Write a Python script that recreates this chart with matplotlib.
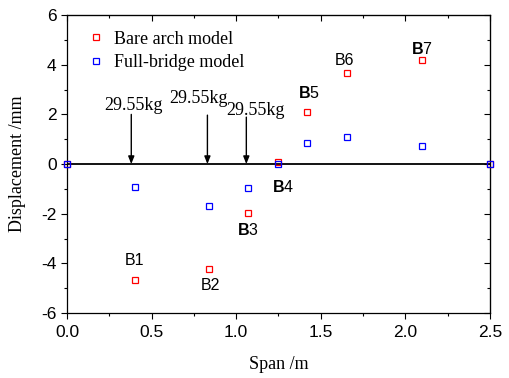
import matplotlib
matplotlib.use("Agg")
import matplotlib.pyplot as plt
from matplotlib.ticker import MultipleLocator

plt.rcParams['mathtext.fontset'] = 'custom'
plt.rcParams['mathtext.rm'] = 'Liberation Sans'
plt.rcParams['mathtext.bf'] = 'Liberation Sans:bold'

# Measured displacement along the span
span = [0.0, 0.40, 0.84, 1.07, 1.25, 1.42, 1.655, 2.10, 2.5]
bare_arch = [0.0, -4.67, -4.23, -1.97, 0.08, 2.09, 3.66, 4.19, 0.0]
full_bridge = [0.0, -0.93, -1.69, -0.97, 0.0, 0.85, 1.09, 0.72, 0.0]

# Gauge point labels (B = bold where marked)
point_labels = ['B1', 'B2', r'$\mathbf{B}\mathrm{3}$', r'$\mathbf{B}\mathrm{4}$',
                r'$\mathbf{B}\mathrm{5}$', 'B6', r'$\mathbf{B}\mathrm{7}$']
label_x = [0.40, 0.845, 1.07, 1.277, 1.43, 1.643, 2.098]
label_y = [-3.87, -4.91, -2.66, -0.93, 2.86, 4.19, 4.63]

# Load application points
load_x = [0.38, 0.83, 1.06]
load_top = [2.0, 1.97, 1.89]
load_text = ['29.55kg', '29.55kg', '29.55kg']
load_text_x = [0.393, 0.777, 1.117]
load_text_y = [2.17, 2.46, 1.97]

fig = plt.figure(figsize=(5.09, 3.78), dpi=100)
ax = fig.add_axes([0.1316, 0.172, 0.831, 0.788])

ax.axhline(0, color='black', lw=1.3, zorder=1)

ax.plot(span, bare_arch, ls='none', marker='s', ms=5, mfc='none', mec='#ff0000',
        mew=0.9, label='Bare arch model', clip_on=False, zorder=3)
ax.plot(span, full_bridge, ls='none', marker='s', ms=5, mfc='none', mec='#0000ff',
        mew=0.9, label='Full-bridge model', clip_on=False, zorder=3)

for t, x, y in zip(point_labels, label_x, label_y):
    ax.text(x, y, t, ha='center', va='center', fontsize=11.5,
            family='Liberation Sans')

for x, top, t, tx, ty in zip(load_x, load_top, load_text, load_text_x, load_text_y):
    ax.annotate('', xy=(x, 0), xytext=(x, top),
                arrowprops=dict(arrowstyle='-|>,head_length=0.45,head_width=0.18',
                                color='black', lw=1.0, shrinkA=0, shrinkB=0))
    ax.text(tx, ty, t, ha='center', va='baseline', fontsize=13,
            family='Liberation Serif')

ax.set_xlim(0, 2.5)
ax.set_ylim(-6, 6)
ax.xaxis.set_major_locator(MultipleLocator(0.5))
ax.xaxis.set_minor_locator(MultipleLocator(0.25))
ax.yaxis.set_major_locator(MultipleLocator(2))
ax.yaxis.set_minor_locator(MultipleLocator(1))
ax.xaxis.set_major_formatter(plt.FuncFormatter(lambda v, p: f'{v:.1f}'))
ax.yaxis.set_major_formatter(plt.FuncFormatter(lambda v, p: f'{v:.0f}'))

ax.tick_params(which='both', direction='out', labelsize=12.5, width=0.8)
ax.tick_params(which='major', length=4)
ax.tick_params(which='minor', length=2.5)
ax.tick_params(axis='x', pad=5)
for lab in ax.get_xticklabels() + ax.get_yticklabels():
    lab.set_family('Liberation Sans')

# Mirror ticks on top and right, pointing inward
top = ax.secondary_xaxis('top')
top.xaxis.set_major_locator(MultipleLocator(0.5))
top.xaxis.set_minor_locator(MultipleLocator(0.25))
top.tick_params(which='both', direction='in', labeltop=False, width=0.8)
top.tick_params(which='major', length=4)
top.tick_params(which='minor', length=2.5)
right = ax.secondary_yaxis('right')
right.yaxis.set_major_locator(MultipleLocator(2))
right.yaxis.set_minor_locator(MultipleLocator(1))
right.tick_params(which='both', direction='in', labelright=False, width=0.8)
right.tick_params(which='major', length=4)
right.tick_params(which='minor', length=2.5)

for sp in ax.spines.values():
    sp.set_linewidth(0.9)

ax.set_xlabel('Span /m', fontsize=13, family='Liberation Serif', labelpad=11)
ax.set_ylabel('Displacement /mm', fontsize=13, family='Liberation Serif')
ax.yaxis.set_label_coords(-0.097, 0.5)

ax.legend(loc='upper left', frameon=False, prop={'family': 'Liberation Serif', 'size': 13},
          handlelength=1.0, handletextpad=0.5, borderaxespad=0.3, labelspacing=0.35,
          bbox_to_anchor=(0.017, 0.99))

fig.savefig('out.png', dpi=100)
